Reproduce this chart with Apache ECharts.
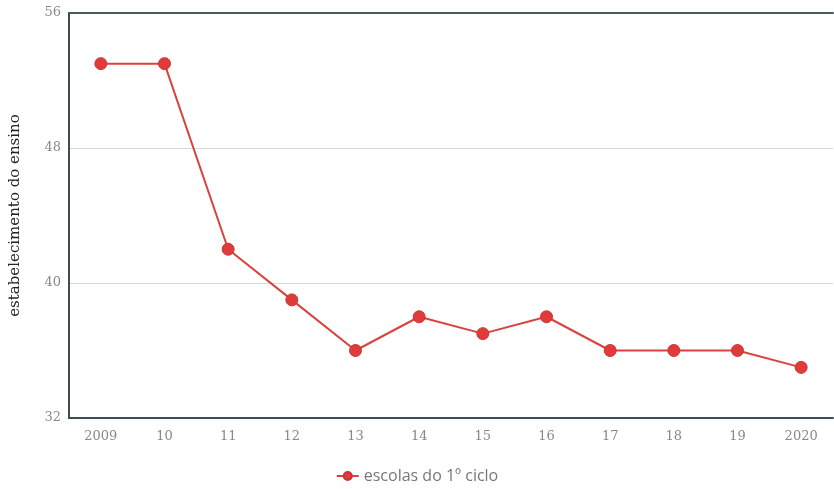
<!DOCTYPE html>
<html>
<head>
<meta charset="utf-8">
<script src="https://cdn.jsdelivr.net/npm/echarts@6/dist/echarts.min.js"></script>
<style>html,body{margin:0;padding:0;background:#fff;}#c{width:834px;height:489px;}</style>
</head>
<body>
<div id="c"></div>
<script>
var categories = ['2009','10','11','12','13','14','15','16','17','18','19','2020'];
var seriesName = 'escolas do 1º ciclo';
var values = [53, 53, 42, 39, 36, 38, 37, 38, 36, 36, 36, 35];
var yTicks = { min: 32, max: 56, interval: 8 };
var yTitle = 'estabelecimento do ensino';

var chart = echarts.init(document.getElementById('c'));
var serif = '"DejaVu Serif", "Liberation Serif", serif';
chart.setOption({
  animation: false,
  grid: { left: 67, right: 1, top: 13, bottom: 71 },
  legend: {
    bottom: 0, left: 'center',
    itemWidth: 22, itemHeight: 10,
    textStyle: { fontFamily: '"Open Sans", sans-serif', fontSize: 16, color: '#777' },
    data: [seriesName]
  },
  xAxis: [{
    type: 'category', data: categories, boundaryGap: true,
    axisLine: { lineStyle: { color: '#3d4c55', width: 2 } },
    axisTick: { show: false },
    axisLabel: { fontFamily: serif, fontSize: 13, color: '#888', margin: 12 }
  }, {
    type: 'category', data: categories, position: 'top',
    axisLine: { lineStyle: { color: '#4a5a62', width: 2 } },
    axisTick: { show: false }, axisLabel: { show: false }
  }],
  yAxis: {
    type: 'value', min: yTicks.min, max: yTicks.max, interval: yTicks.interval,
    name: yTitle, nameLocation: 'middle', nameGap: 46,
    nameTextStyle: { fontFamily: serif, fontSize: 15, color: '#222' },
    axisLine: { show: true, lineStyle: { color: '#3d4c55', width: 2 } },
    axisTick: { show: false },
    axisLabel: { fontFamily: serif, fontSize: 13, color: '#888', margin: 8 },
    splitLine: { lineStyle: { color: '#d8d8d8', width: 1 } }
  },
  series: [{
    name: seriesName, type: 'line', data: values,
    symbol: 'circle', symbolSize: 12,
    lineStyle: { color: '#d9423e', width: 2 },
    itemStyle: { color: '#e03b3b', borderColor: '#c93434', borderWidth: 1 }
  }]
});
</script>
</body>
</html>
